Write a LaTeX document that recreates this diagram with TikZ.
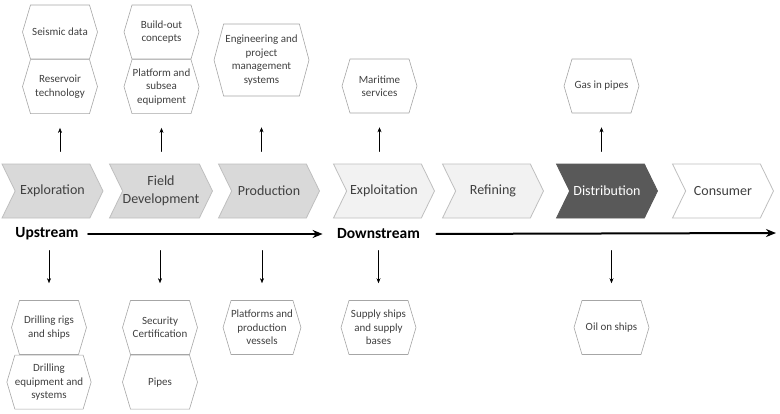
\documentclass[tikz,border=0pt]{standalone}
\usepackage{fontspec}
\setmainfont{Carlito}
\usepackage{tikz}
\usetikzlibrary{arrows.meta,positioning,shapes.symbols}
\definecolor{txtgray}{HTML}{404040}
\definecolor{edgegray}{HTML}{BFBFBF}
\definecolor{hexgray}{HTML}{A6A6A6}
\definecolor{midgray}{HTML}{D9D9D9}
\definecolor{lightgray}{HTML}{F2F2F2}
\definecolor{darkgray}{HTML}{595959}

\begin{document}
\begin{tikzpicture}[x=1pt,y=-1pt,>={Stealth[length=5pt,width=4pt]},line cap=round,
  stage/.style={signal,signal from=west,signal to=east,signal pointer angle=128,
    draw=edgegray,line width=0.8pt,minimum width=101pt,minimum height=54pt,
    inner sep=0pt,align=center,text=txtgray,font=\fontsize{14}{17.5}\selectfont},
  item/.style={signal,signal to=east and west,signal pointer angle=147,
    draw=hexgray,line width=0.6pt,fill=white,minimum width=75pt,minimum height=54pt,
    inner sep=0pt,align=center,text=txtgray,font=\fontsize{11}{13.5}\selectfont},
  flow/.style={line width=2pt,-{Stealth[length=10pt,width=8pt]}},
  upto/.style={->,shorten <=12pt,shorten >=14pt},
  downto/.style={->,shorten <=32pt,shorten >=17pt}]
\useasboundingbox (0,0) rectangle (780,413);
% value chain
\node[stage,fill=midgray] (expl) at (52.5,191) {Exploration};
\node[stage,fill=midgray] (field) at (161,191) {Field\\Development};
\node[stage,fill=midgray] (prod) at (269,191) {Production};
\node[stage,fill=lightgray] (explt) at (384,191) {Exploitation};
\node[stage,fill=lightgray] (refin) at (493,191) {Refining};
\node[stage,fill=darkgray,draw=darkgray,text=white] (distr) at (607,191) {Distribution};
\node[stage,fill=white] (cons) at (723,191) {Consumer};
% streams
\node[font=\fontsize{15.5}{18}\selectfont\bfseries] (up) at (47,234) {Upstream};
\node[font=\fontsize{15.5}{18}\selectfont\bfseries] (down) at (378.5,234) {Downstream};
\coordinate (end) at (776,233);
\draw[flow,shorten <=6pt,shorten >=11pt] (up.east) -- (down.west);
\draw[flow,shorten <=13pt] (down.east) -- (end);
% above
\node[item] (seis) at (60,32) {Seismic data};
\node[item,below=0pt of seis] (res) {Reservoir\\technology};
\node[item] (build) at (161.5,32) {Build-out\\concepts};
\node[item,below=0pt of build] (plat) {Platform and\\subsea\\equipment};
\node[item,minimum width=95pt,minimum height=72pt,signal pointer angle=150] (eng) at (261.5,60) {Engineering and\\project\\management\\systems};
\node[item] (mari) at (379.5,86) {Maritime\\services};
\node[item] (gas) at (601.5,86) {Gas in pipes};
% below
\node[item] (rigs) at (49,327.5) {Drilling rigs\\and ships};
\node[item,below=0pt of rigs] (equip) {Drilling\\equipment and\\systems};
\node[item] (secu) at (160,327.5) {Security\\Certification};
\node[item,below=0pt of secu] (pipes) {Pipes};
\node[item] (vess) at (262,327.5) {Platforms and\\production\\vessels};
\node[item] (supp) at (378.5,327.5) {Supply ships\\and supply\\bases};
\node[item] (oil) at (611.5,327.5) {Oil on ships};
% arrows up
\draw[upto] (res.south |- expl.north) -- (res.south);
\draw[upto] (plat.south |- field.north) -- (plat.south);
\draw[upto,shorten >=31pt] (eng.south |- prod.north) -- (eng.south);
\draw[upto] (mari.south |- explt.north) -- (mari.south);
\draw[upto] (gas.south |- distr.north) -- (gas.south);
% arrows down
\draw[downto] (rigs.north |- expl.south) -- (rigs.north);
\draw[downto] (secu.north |- field.south) -- (secu.north);
\draw[downto] (vess.north |- prod.south) -- (vess.north);
\draw[downto] (supp.north |- explt.south) -- (supp.north);
\draw[downto] (oil.north |- distr.south) -- (oil.north);
\end{tikzpicture}
\end{document}
